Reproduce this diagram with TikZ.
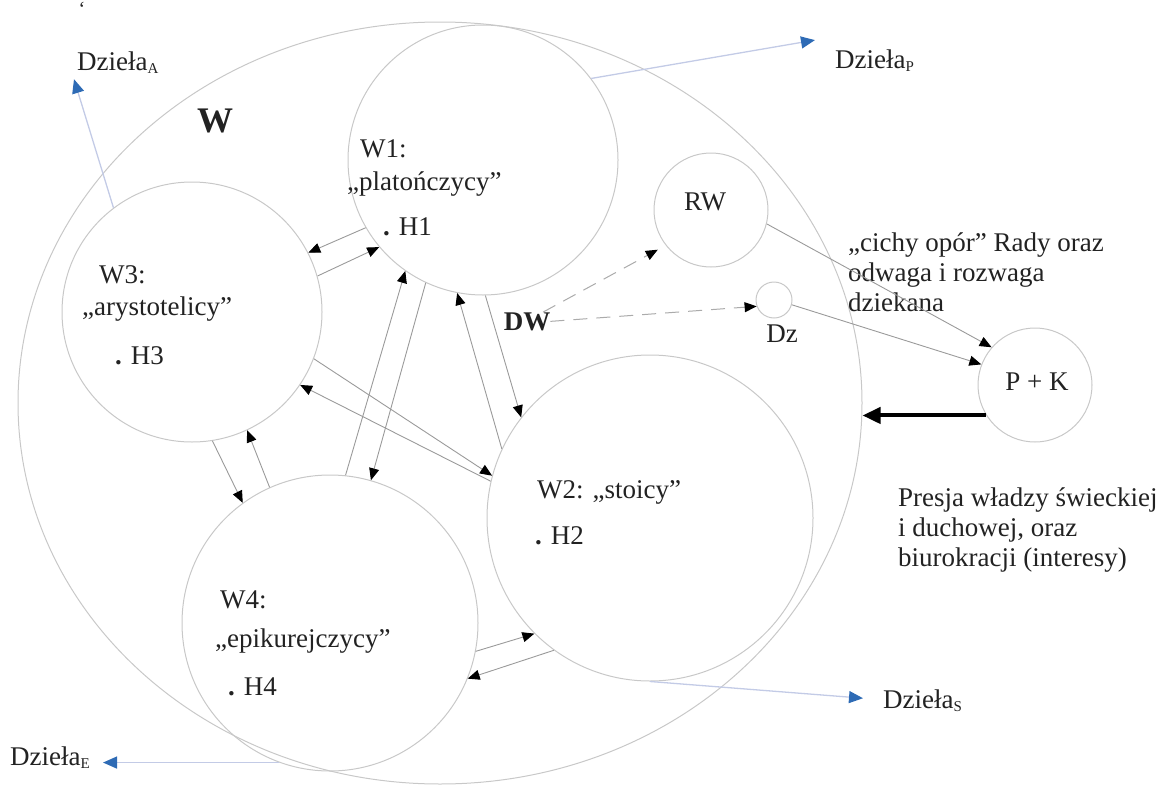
\documentclass[tikz,border=0pt]{standalone}
\usepackage{fontspec}
\setmainfont{Liberation Serif}
\usetikzlibrary{shapes.geometric,arrows.meta,calc}
\definecolor{circ}{HTML}{C8C8C8}
\definecolor{conn}{HTML}{9A9A9A}
\definecolor{dashc}{HTML}{ABABAB}
\definecolor{bline}{HTML}{C3CBE6}
\definecolor{btip}{HTML}{2E6BB5}
\definecolor{ink}{HTML}{222222}
\newcommand{\lowidx}[1]{\raisebox{-3pt}{\fontsize{15}{15}\selectfont #1}}
\begin{document}
\begin{tikzpicture}[x=1pt,y=-1pt,
  ring/.style={circle,draw=circ,line width=1pt,inner sep=0pt},
  txt/.style={font=\fontsize{27}{30}\selectfont,inner sep=0pt,text=ink},
  link/.style={draw=conn,line width=0.9pt,-{Triangle[length=12pt,width=10pt,color=black]}},
  dlink/.style={draw=dashc,line width=1pt,dash pattern=on 14pt off 9pt,-{Triangle[length=12pt,width=10pt,color=black]}},
  blink/.style={draw=bline,line width=1.3pt,-{Triangle[length=14pt,width=12pt,color=btip]}},
  heavy/.style={draw=black,line width=4pt,-{Triangle[length=18pt,width=16pt,color=black]}}]
\useasboundingbox (0,0) rectangle (1162,787);
% circles
\node[ellipse,draw=circ,line width=1pt,minimum width=844pt,minimum height=762pt,inner sep=0pt] (W) at (440,403) {};
\node[ring,minimum size=270pt] (W1) at (483,160) {};
\node[ring,minimum size=260pt] (W3) at (192,312) {};
\node[ring,minimum size=296pt] (W4) at (330,623) {};
\node[ring,minimum size=326pt] (W2) at (650,518) {};
\node[ring,minimum size=114pt] (RW) at (711,210) {};
\node[ring,minimum size=36pt] (Dz) at (774,300) {};
\node[ring,minimum size=114pt] (PK) at (1035,385) {};
% texts
\node[txt,anchor=base,font=\fontsize{20}{20}\selectfont] (tick) at (82,16) {‘};
\node[txt,anchor=base west,font=\fontsize{36}{40}\selectfont\bfseries] (tW) at (197,132) {W};
\node[txt,anchor=base west] (tW1) at (360,157) {W1:};
\node[txt,anchor=base west] (tW1b) at (347,190) {„platończycy”};
\node[txt,anchor=base west] (tH1) at (383,235) {\textbf{.} H1};
\node[txt,anchor=base west] (tW3) at (99,283) {W3:};
\node[txt,anchor=base west] (tW3b) at (82,315) {„arystotelicy”};
\node[txt,anchor=base west] (tH3) at (115,364) {\textbf{.} H3};
\node[txt,anchor=base west] (tW4) at (220,608) {W4:};
\node[txt,anchor=base west] (tW4b) at (215,647) {„epikurejczycy”};
\node[txt,anchor=base west] (tH4) at (228,695) {\textbf{.} H4};
\node[txt,anchor=base west] (tW2) at (537,498) {W2: „stoicy”};
\node[txt,anchor=base west] (tH2) at (535,544) {\textbf{.} H2};
\node[txt,anchor=base] (tRW) at (705,210) {RW};
\node[txt,anchor=base] (tDz) at (782,342) {Dz};
\node[txt,anchor=base,font=\fontsize{27}{30}\selectfont\bfseries] (DW) at (527,330) {DW};
\node[txt,anchor=base] (tPK) at (1037,390) {P + K};
\node[txt,anchor=north west,align=left] (tcichy) at (848,233) {„cichy opór” Rady oraz\\odwaga i rozwaga\\dziekana};
\node[txt,anchor=north west,align=left] (tpresja) at (898,488) {Presja władzy świeckiej\\i duchowej, oraz\\biurokracji (interesy)};
\node[txt,anchor=base west] (DA) at (77,70) {Dzieła\lowidx{A}};
\node[txt,anchor=base west] (DP) at (835,68) {Dzieła\lowidx{P}};
\node[txt,anchor=base west] (DS) at (883,708) {Dzieła\lowidx{S}};
\node[txt,anchor=base west] (DE) at (10,765) {Dzieła\lowidx{E}};
% tips of the blue arrows
\coordinate (tipA) at ($(DA.south west)+(-3,6)$);
\coordinate (tipP) at ($(DP.north west)+(-20,-9)$);
\coordinate (tipS) at ($(DS.west)+(-20,-2)$);
\coordinate (tipE) at ($(DE.east)+(13,0)$);
% connectors between the circles
\draw[link] (W1.210) -- (W3.27);
\draw[link] (W3.16) -- (W1.220);
\draw[link] (W4.84) -- (W1.235);
\draw[link] (W1.245) -- (W4.74);
\draw[link] (W2.167) -- (W3.-34);
\draw[link] (W3.-21) -- (W2.165);
\draw[link] (W1.271) -- (W2.142);
\draw[link] (W2.155) -- (W1.259);
\draw[link] (W3.-81) -- (W4.126);
\draw[link] (W4.114) -- (W3.-65);
\draw[link] (W4.-11) -- (W2.225);
\draw[link] (W2.234) -- (W4.-22);
\draw[link] (RW.-14) -- (PK.139);
\draw[link] (Dz.-15) -- (PK.159);
\draw[dlink,shorten >=9pt] (DW.30) -- (RW.218);
\draw[dlink] (DW.east) -- (Dz.200);
\draw[heavy] (PK.212) -- (PK.212 -| W.east);
% blue arrows
\draw[blink] (W3.127) -- (tipA);
\draw[blink] (W1.37) -- (tipP);
\draw[blink] (W2.south) -- (tipS);
\draw[blink] (W4.250) -- (W4.250 -| tipE);
\end{tikzpicture}
\end{document}
